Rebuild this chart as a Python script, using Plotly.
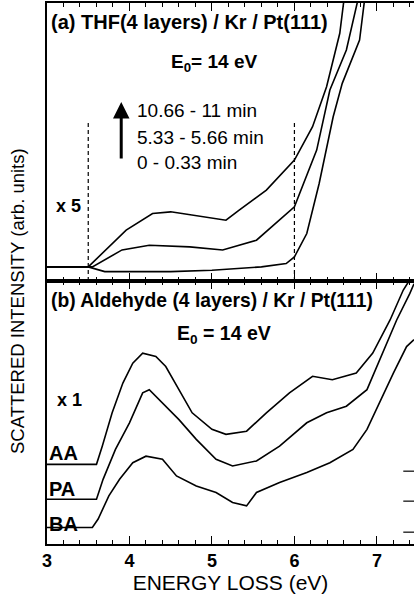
import plotly.graph_objects as go

# ---------------- data ----------------
# Panel (a): THF, three time windows (arb. units, x5)
thf_late_x = [3.0, 3.5, 3.96, 4.28, 4.5, 4.93, 5.17, 5.33, 5.66, 6.0, 6.22, 6.39, 6.55, 6.6, 6.7]
thf_late_y = [0.51, 0.51, 1.83, 2.43, 2.49, 2.31, 2.19, 2.55, 3.27, 4.35, 5.55, 6.99, 8.91, 10.1, 11.0]
thf_mid_x = [3.0, 3.55, 3.91, 4.24, 4.73, 5.13, 5.54, 6.0, 6.27, 6.43, 6.63, 6.73, 6.8]
thf_mid_y = [0.51, 0.51, 1.12, 1.29, 1.23, 1.12, 1.47, 2.67, 4.71, 6.87, 8.31, 9.63, 10.5]
thf_early_x = [3.0, 3.5, 3.7, 4.5, 5.0, 5.6, 5.9, 6.0, 6.15, 6.3, 6.47, 6.58, 6.79, 6.85, 6.9]
thf_early_y = [0.51, 0.51, 0.34, 0.34, 0.39, 0.51, 0.63, 0.87, 1.71, 3.51, 5.91, 7.11, 8.67, 10.1, 10.8]
dash_x = [3.5, 6.0]
dash_top = 5.72

# Panel (b): aldehydes (arb. units, x1)
aa_x = [3.0, 3.6, 3.67, 3.79, 3.92, 4.04, 4.16, 4.32, 4.44, 4.6, 4.76, 5.0, 5.17, 5.42, 5.66, 5.94, 6.22, 6.46, 6.75, 6.95, 7.16, 7.32, 7.40, 7.45]
aa_y = [3.03, 3.03, 3.72, 4.99, 6.12, 6.88, 7.26, 7.13, 6.75, 5.87, 4.99, 4.36, 4.17, 4.29, 4.99, 5.75, 6.38, 6.25, 6.50, 7.26, 8.52, 9.66, 10.04, 10.3]
pa_x = [3.0, 3.6, 3.68, 3.83, 4.0, 4.16, 4.24, 4.4, 4.6, 4.81, 5.05, 5.25, 5.54, 5.82, 6.15, 6.39, 6.63, 6.88, 7.07, 7.24, 7.40, 7.45]
pa_y = [1.70, 1.70, 2.46, 3.60, 4.61, 5.75, 5.87, 5.37, 4.73, 3.98, 3.22, 2.97, 3.16, 3.72, 4.61, 4.99, 5.24, 5.87, 7.26, 8.52, 9.53, 9.9]
ba_x = [3.0, 3.55, 3.62, 3.75, 3.88, 4.04, 4.2, 4.4, 4.57, 4.81, 5.05, 5.25, 5.42, 5.54, 5.82, 6.15, 6.43, 6.71, 6.88, 7.03, 7.2, 7.36, 7.45]
ba_y = [0.63, 0.63, 0.95, 1.83, 2.46, 3.09, 3.34, 3.22, 2.59, 2.21, 1.96, 1.58, 1.45, 1.96, 2.34, 2.72, 3.09, 3.60, 4.36, 5.37, 6.50, 7.51, 7.77]
zero_marks = [2.77, 1.63, 0.45]
zero_x = [7.32, 7.45]

x_ticks = [3, 4, 5, 6, 7]

FONT = "Arial, Liberation Sans, sans-serif"
LW = 1.6

fig = go.Figure()

def line(x, y, ax, dash=None, width=LW):
    fig.add_trace(go.Scatter(x=x, y=y, mode="lines", xaxis=ax[0], yaxis=ax[1],
                             line=dict(color="black", width=width, dash=dash),
                             showlegend=False, hoverinfo="skip"))

top = ("x2", "y2")
bot = ("x", "y")
for xs, ys in [(thf_late_x, thf_late_y), (thf_mid_x, thf_mid_y), (thf_early_x, thf_early_y)]:
    line(xs, ys, top)
for dx in dash_x:
    line([dx, dx], [0, dash_top], top, dash="4px,3px", width=1.2)
for xs, ys in [(aa_x, aa_y), (pa_x, pa_y), (ba_x, ba_y)]:
    line(xs, ys, bot)
for z in zero_marks:
    line(zero_x, [z, z], bot, width=1.2)

split = 0.486
axis_common = dict(range=[3, 7.45], showline=True, linecolor="black", linewidth=1.5,
                   mirror="ticks", ticks="inside", ticklen=8, tickwidth=1.3, tickcolor="black",
                   tickvals=x_ticks, showgrid=False, zeroline=False, automargin=False,
                   minor=dict(dtick=0.2, tick0=3, ticks="inside", ticklen=4, tickwidth=1.1, tickcolor="black", showgrid=False))
yaxis_common = dict(range=[0, 10], showline=True, linecolor="black", linewidth=1.5,
                    showticklabels=False, ticks="", showgrid=False, zeroline=False, automargin=False)
fig.update_layout(
    width=414, height=599,
    margin=dict(l=47, r=0, t=3, b=55),
    paper_bgcolor="white", plot_bgcolor="white",
    font=dict(family=FONT, color="black"),
    xaxis=dict(**axis_common, anchor="y", ticktext=[f"<b>{v}</b>" for v in x_ticks],
               tickfont=dict(size=18, family=FONT),
               title=dict(text="ENERGY LOSS (eV)", font=dict(size=21), standoff=0)),
    xaxis2=dict(**axis_common, anchor="y2", matches="x", showticklabels=False),
    yaxis=dict(domain=[0, split], **yaxis_common),
    yaxis2=dict(domain=[split, 1], **yaxis_common),
)

def txt(x, y, s, ax, size=20, xanchor="left", bold=True):
    fig.add_annotation(x=x, y=y, xref=ax[0], yref=ax[1], text=f"<b>{s}</b>" if bold else s,
                       showarrow=False, xanchor=xanchor, yanchor="middle",
                       font=dict(size=size, family=FONT, color="black"))

# panel (a)
txt(3.02, 9.32, "(a) THF(4 layers) / Kr / Pt(111)", top, size=20)
txt(5.03, 7.84, "E<sub>0</sub>= 14 eV", top, size=19, xanchor="center")
txt(4.07, 6.15, "10.66 - 11 min", top, size=19, bold=False)
txt(4.07, 5.18, "5.33 - 5.66 min", top, size=19, bold=False)
txt(4.07, 4.28, "0 - 0.33 min", top, size=19, bold=False)
txt(3.08, 2.70, "x 5", top, size=18)
fig.add_annotation(x=3.90, y=6.44, ax=3.90, ay=4.35, xref="x2", yref="y2", axref="x2", ayref="y2",
                   text="", showarrow=True, arrowhead=2, arrowsize=1.1, arrowwidth=3, arrowcolor="black")

# panel (b)
txt(3.03, 9.28, "(b) Aldehyde (4 layers) / Kr / Pt(111)", bot, size=19.3)
txt(5.15, 7.95, "E<sub>0</sub> = 14 eV", bot, size=19.5, xanchor="center")
txt(3.10, 5.49, "x 1", bot, size=18)
txt(3.0, 3.48, "AA", bot, size=20)
txt(3.0, 2.08, "PA", bot, size=20)
txt(3.0, 0.76, "BA", bot, size=20)

# y-axis title
fig.add_annotation(x=17, y=301, xref="paper", yref="paper", text="SCATTERED INTENSITY (arb. units)",
                   showarrow=False, textangle=-90, font=dict(size=18.5, family=FONT, color="black"))
plot_w = 414 - 47
plot_h = 599 - 3 - 55
fig.layout.annotations[-1].update(x=(17 - 47) / plot_w, y=(599 - 55 - 301) / plot_h,
                                  xanchor="center", yanchor="middle")

fig.write_html("out.html", config={"displayModeBar": False},
               post_script="document.body.style.margin='0';document.body.style.overflow='hidden';")
